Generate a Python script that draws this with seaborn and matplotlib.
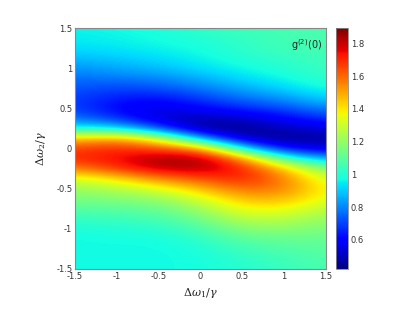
import numpy as np
import matplotlib
matplotlib.use("Agg")
import matplotlib.pyplot as plt
import seaborn as sns

# detuning grids (units of gamma)
dw1 = [-1.5, -1.0, -0.5, 0.0, 0.5, 1.0, 1.5]
dw2 = [1.5, 1.375, 1.25, 1.125, 1.0, 0.875, 0.75, 0.625, 0.5, 0.375, 0.25, 0.125,
       0.0, -0.125, -0.25, -0.375, -0.5, -0.625, -0.75, -0.875, -1.0, -1.125,
       -1.25, -1.375, -1.5]

# g2(0) values read column by column (one list per dw1 value, top to bottom in dw2)
g2_m150 = [0.96, 0.95, 0.93, 0.88, 0.82, 0.77, 0.73, 0.70, 0.70, 0.78, 0.97, 1.45,
           1.66, 1.70, 1.55, 1.32, 1.21, 1.15, 1.09, 1.03, 0.99, 0.97, 0.97, 0.97, 0.97]
g2_m100 = [0.97, 0.96, 0.94, 0.90, 0.85, 0.78, 0.70, 0.64, 0.60, 0.68, 0.95, 1.52,
           1.70, 1.74, 1.68, 1.40, 1.26, 1.17, 1.10, 1.04, 1.00, 0.98, 0.97, 0.97, 0.97]
g2_m050 = [0.99, 0.98, 0.96, 0.93, 0.88, 0.80, 0.72, 0.62, 0.55, 0.53, 0.72, 1.33,
           1.65, 1.85, 1.80, 1.55, 1.33, 1.20, 1.12, 1.06, 1.01, 0.98, 0.97, 0.97, 0.97]
g2_000 = [1.03, 1.00, 0.98, 0.96, 0.93, 0.86, 0.78, 0.69, 0.60, 0.49, 0.45, 0.85,
          1.55, 1.85, 1.82, 1.64, 1.46, 1.32, 1.22, 1.14, 1.07, 1.02, 0.99, 0.98, 0.98]
g2_p050 = [1.05, 1.03, 1.02, 1.00, 0.97, 0.93, 0.85, 0.77, 0.66, 0.52, 0.45, 0.50,
           0.95, 1.55, 1.72, 1.72, 1.60, 1.47, 1.37, 1.27, 1.18, 1.10, 1.05, 1.02, 1.00]
g2_p100 = [1.06, 1.06, 1.05, 1.03, 1.00, 0.97, 0.92, 0.82, 0.71, 0.60, 0.50, 0.45,
           0.60, 1.05, 1.45, 1.56, 1.56, 1.48, 1.37, 1.27, 1.19, 1.12, 1.08, 1.05, 1.04]
g2_p150 = [1.07, 1.07, 1.06, 1.05, 1.04, 1.02, 0.98, 0.92, 0.80, 0.68, 0.55, 0.47,
           0.55, 0.85, 1.15, 1.30, 1.35, 1.33, 1.26, 1.20, 1.15, 1.12, 1.10, 1.08, 1.07]

cbar_ticks = [0.6, 0.8, 1.0, 1.2, 1.4, 1.6, 1.8]
cbar_labels = ["0.6", "0.8", "1", "1.2", "1.4", "1.6", "1.8"]
axis_ticks = [-1.5, -1.0, -0.5, 0.0, 0.5, 1.0, 1.5]
axis_labels = ["-1.5", "-1", "-0.5", "0", "0.5", "1", "1.5"]
vmin, vmax = 0.423, 1.893

sns.set_theme(style="white")
plt.rcParams["font.family"] = ["DejaVu Sans"]

Z = np.array([g2_m150, g2_m100, g2_m050, g2_000, g2_p050, g2_p100, g2_p150]).T

fig = plt.figure(figsize=(4.15, 3.11), dpi=100)
ax = fig.add_axes([75/415, 1-269/311, 251/415, 241/311])
cax = fig.add_axes([336/415, 1-269/311, 12/415, 241/311])

dx = dw1[1] - dw1[0]
dy = dw2[0] - dw2[1]
im = ax.imshow(Z, cmap="jet", vmin=vmin, vmax=vmax, aspect="auto",
               interpolation="bicubic", interpolation_stage="data", origin="upper",
               extent=[dw1[0]-dx/2, dw1[-1]+dx/2, dw2[-1]-dy/2, dw2[0]+dy/2])
ax.set_xlim(-1.5, 1.5)
ax.set_ylim(-1.5, 1.5)
ax.set_xticks(axis_ticks)
ax.set_xticklabels(axis_labels)
ax.set_yticks(axis_ticks)
ax.set_yticklabels(axis_labels)
ax.tick_params(axis="both", labelsize=6, colors="#333333", length=2, direction="in", pad=2)
for s in ax.spines.values():
    s.set_color("#888888")
    s.set_linewidth(0.8)

ax.set_xlabel(r"$\Delta\omega_1/\gamma$", fontsize=8, labelpad=4, color="#222222")
ax.set_ylabel(r"$\Delta\omega_2/\gamma$", fontsize=8, labelpad=6, color="#222222")
ax.xaxis.label.set_math_fontfamily("dejavuserif")
ax.yaxis.label.set_math_fontfamily("dejavuserif")

ax.text(0.985, 0.93, r"g$^{(2)}$(0)", transform=ax.transAxes, ha="right", va="center",
        fontsize=7, color="#222222")

cb = fig.colorbar(im, cax=cax)
cb.set_ticks(cbar_ticks)
cb.set_ticklabels(cbar_labels)
cb.ax.tick_params(labelsize=6, colors="#333333", length=2, direction="in", pad=2)
cb.outline.set_edgecolor("#888888")
cb.outline.set_linewidth(0.6)

fig.savefig("out.png", dpi=100)
